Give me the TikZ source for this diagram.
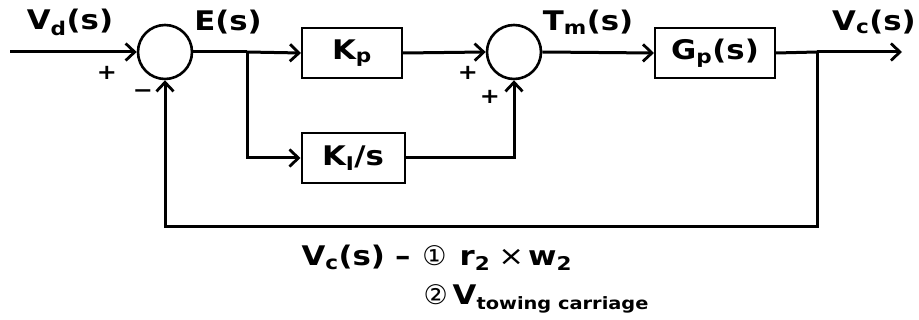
\documentclass[tikz,border=0pt]{standalone}
\usepackage{fontspec}
\setmainfont{DejaVu Sans}[FakeStretch=1.14]
\newfontfamily\simbolos{DejaVu Sans}
\usetikzlibrary{arrows.meta}

\begin{document}
\begin{tikzpicture}[x=1pt, y=-1pt, line width=3pt,
    font=\fontsize{27}{30}\selectfont\bfseries,
    bloque/.style={draw, line width=2pt, minimum height=50pt, inner sep=0pt},
    sumador/.style={circle, draw, line width=2.6pt, minimum size=54pt, inner sep=0pt},
    flecha/.style={-{Straight Barb[length=9pt, width=17pt, line width=2.8pt]}},
    signo/.style={font=\fontsize{21}{22}\selectfont\bfseries, inner sep=0pt}]

    \useasboundingbox (0,0) rectangle (919,320);

    % sumadores y bloques
    \node[sumador] (sum1) at (165,52) {};
    \node[sumador] (sum2) at (514,52) {};
    \node[bloque, minimum width=100pt] (kp) at (352,53) {K\textsubscript{p}};
    \node[bloque, minimum width=103pt] (ki) at (353,158) {K\textsubscript{I}/s};
    \node[bloque, minimum width=120pt] (gp) at (715,53) {G\textsubscript{p}(s)};

    % puntos de union
    \coordinate (entrada) at (10,52);
    \coordinate (ramaE) at (247,52);
    \coordinate (ramaV) at (817,52);
    \coordinate (salida) at (902,52);
    \coordinate (abajoD) at (817,227);
    \coordinate (abajoI) at (165,227);

    % conexiones
    \draw[flecha] (entrada) -- (sum1.west);
    \draw (sum1.east) -- (ramaE);
    \draw[flecha] (ramaE) -- (kp.west);
    \draw[flecha] (ramaE) |- (ki.west);
    \draw[flecha] (kp.east) -- (sum2.west);
    \draw[flecha] (ki.east) -| (sum2.south);
    \draw[flecha] (sum2.east) -- (gp.west);
    \draw (gp.east) -- (ramaV);
    \draw[flecha] (ramaV) -- (salida);
    \draw[flecha] (ramaV) -- (abajoD) -- (abajoI) -- (sum1.south);

    % etiquetas
    \node (vd) at (70,22) {V\textsubscript{d}(s)};
    \node (es) at (228,22) {E(s)};
    \node (tm) at (588,22) {T\textsubscript{m}(s)};
    \node (vc) at (874,22) {V\textsubscript{c}(s)};
    \node[signo] (mas1) at (107,73) {+};
    \node[signo] (menos1) at (143,94) {−};
    \node[signo] (mas2) at (468,73) {+};
    \node[signo] (mas3) at (490,97) {+};

    % texto inferior
    \node[anchor=west, inner sep=0pt] (nota1) at (300,258)
        {V\textsubscript{c}(s)\hspace{10pt}–\hspace{12pt}{\simbolos\mdseries ①}\hspace{13pt}r\textsubscript{2}\hspace{8pt}{\mdseries ×}\hspace{4pt}w\textsubscript{2}};
    \node[anchor=west, inner sep=0pt] (nota2) at (422,299)
        {{\simbolos\mdseries ②}\hspace{5pt}V\textsubscript{\fontsize{17}{18}\selectfont towing carriage}};

\end{tikzpicture}
\end{document}
